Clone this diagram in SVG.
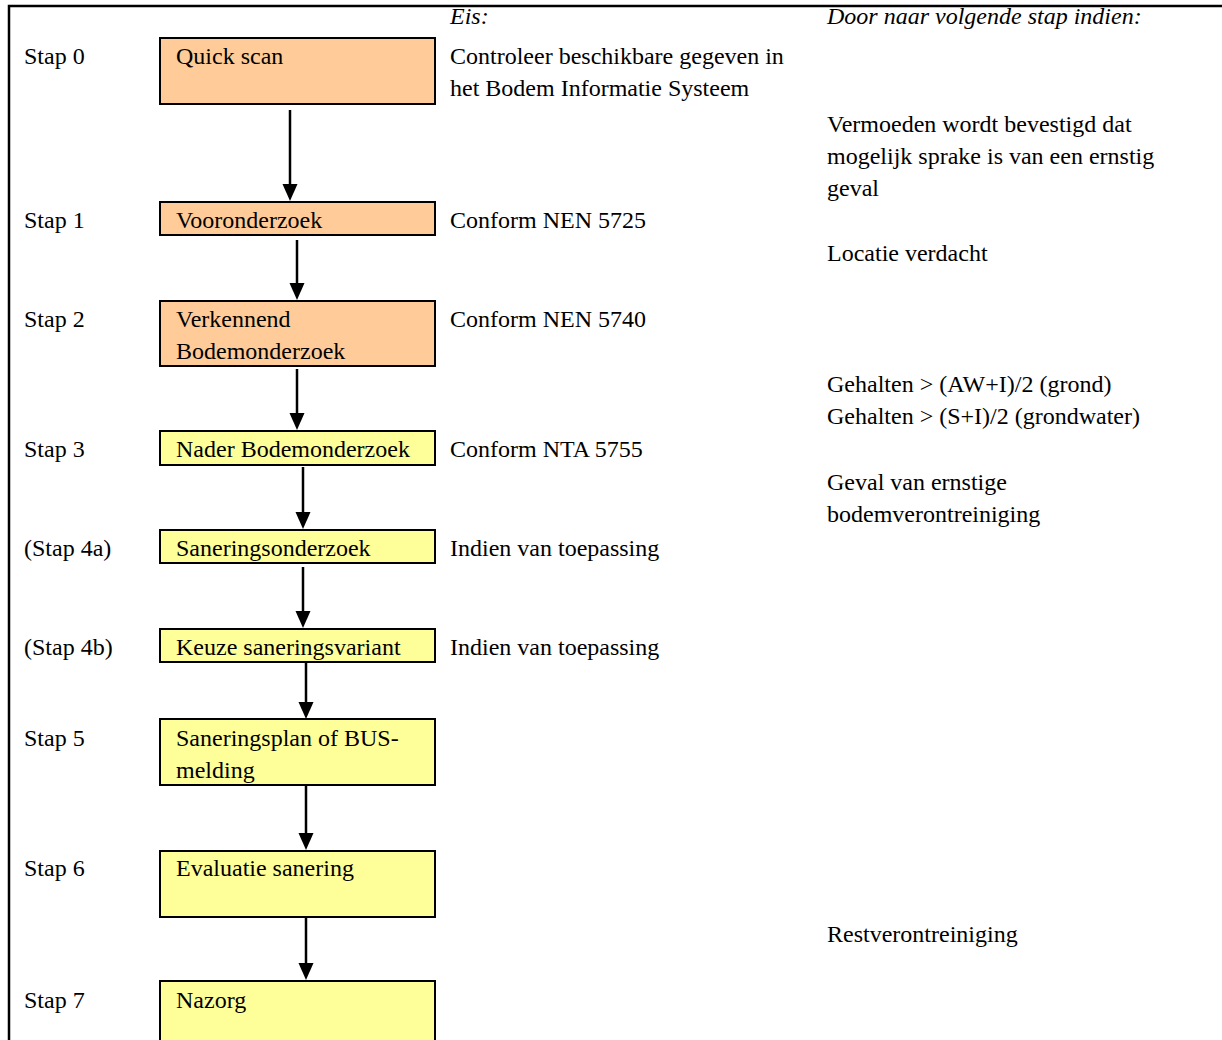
<svg xmlns="http://www.w3.org/2000/svg" width="1222" height="1040" viewBox="0 0 1222 1040">
<style>
text{font-family:"Liberation Serif","Times New Roman",serif;font-size:24px;fill:#000}
.it{font-style:italic}
.box{stroke:#000;stroke-width:2}
.or{fill:#FFCC99}
.ye{fill:#FFFF99}
.conn line{stroke:#000;stroke-width:2.5}
</style>
<defs>
<marker id="ah" markerUnits="userSpaceOnUse" markerWidth="18" markerHeight="16" refX="9" refY="7.5" orient="auto">
<path d="M0,0 L17,7.5 L0,15 z" fill="#000"/>
</marker>
</defs>
<rect width="1222" height="1040" fill="#fff"/>
<path d="M9,1040 V6 H1222" fill="none" stroke="#000" stroke-width="2.5"/>

<g id="headers">
<text x="450" y="24" class="it">Eis:</text>
<text x="827" y="24" class="it">Door naar volgende stap indien:</text>
</g>

<g id="stap-labels">
<text x="24" y="64">Stap 0</text>
<text x="24" y="228">Stap 1</text>
<text x="24" y="327">Stap 2</text>
<text x="24" y="457">Stap 3</text>
<text x="24" y="556">(Stap 4a)</text>
<text x="24" y="655">(Stap 4b)</text>
<text x="24" y="746">Stap 5</text>
<text x="24" y="876">Stap 6</text>
<text x="24" y="1008">Stap 7</text>
</g>

<g id="node-quickscan">
<rect class="box or" x="160" y="38" width="275" height="66"/>
<text x="176" y="64">Quick scan</text>
</g>
<g id="node-vooronderzoek">
<rect class="box or" x="160" y="202" width="275" height="33"/>
<text x="176" y="228">Vooronderzoek</text>
</g>
<g id="node-verkennend">
<rect class="box or" x="160" y="301" width="275" height="65"/>
<text x="176" y="327">Verkennend</text>
<text x="176" y="359">Bodemonderzoek</text>
</g>
<g id="node-nader">
<rect class="box ye" x="160" y="431" width="275" height="34"/>
<text x="176" y="457">Nader Bodemonderzoek</text>
</g>
<g id="node-saneringsonderzoek">
<rect class="box ye" x="160" y="530" width="275" height="33"/>
<text x="176" y="556">Saneringsonderzoek</text>
</g>
<g id="node-keuze">
<rect class="box ye" x="160" y="629" width="275" height="33"/>
<text x="176" y="655">Keuze saneringsvariant</text>
</g>
<g id="node-saneringsplan">
<rect class="box ye" x="160" y="719" width="275" height="66"/>
<text x="176" y="746">Saneringsplan of BUS-</text>
<text x="176" y="778">melding</text>
</g>
<g id="node-evaluatie">
<rect class="box ye" x="160" y="851" width="275" height="66"/>
<text x="176" y="876">Evaluatie sanering</text>
</g>
<g id="node-nazorg">
<rect class="box ye" x="160" y="981" width="275" height="70"/>
<text x="176" y="1008">Nazorg</text>
</g>

<g id="eisen">
<text x="450" y="64">Controleer beschikbare gegeven in</text>
<text x="450" y="96">het Bodem Informatie Systeem</text>
<text x="450" y="228">Conform NEN 5725</text>
<text x="450" y="327">Conform NEN 5740</text>
<text x="450" y="457">Conform NTA 5755</text>
<text x="450" y="556">Indien van toepassing</text>
<text x="450" y="655">Indien van toepassing</text>
</g>

<g id="voorwaarden">
<text x="827" y="132">Vermoeden wordt bevestigd dat</text>
<text x="827" y="164">mogelijk sprake is van een ernstig</text>
<text x="827" y="196">geval</text>
<text x="827" y="261">Locatie verdacht</text>
<text x="827" y="392">Gehalten &gt; (AW+I)/2 (grond)</text>
<text x="827" y="424">Gehalten &gt; (S+I)/2 (grondwater)</text>
<text x="827" y="490">Geval van ernstige</text>
<text x="827" y="522">bodemverontreiniging</text>
<text x="827" y="942">Restverontreiniging</text>
</g>

<g id="connectors" class="conn">
<line x1="290" y1="110" x2="290" y2="193" marker-end="url(#ah)"/>
<line x1="297" y1="240" x2="297" y2="292" marker-end="url(#ah)"/>
<line x1="297" y1="369" x2="297" y2="422" marker-end="url(#ah)"/>
<line x1="303" y1="467" x2="303" y2="521" marker-end="url(#ah)"/>
<line x1="303" y1="567" x2="303" y2="620" marker-end="url(#ah)"/>
<line x1="306" y1="663" x2="306" y2="711" marker-end="url(#ah)"/>
<line x1="306" y1="786" x2="306" y2="842" marker-end="url(#ah)"/>
<line x1="306" y1="918" x2="306" y2="972" marker-end="url(#ah)"/>
</g>
</svg>
